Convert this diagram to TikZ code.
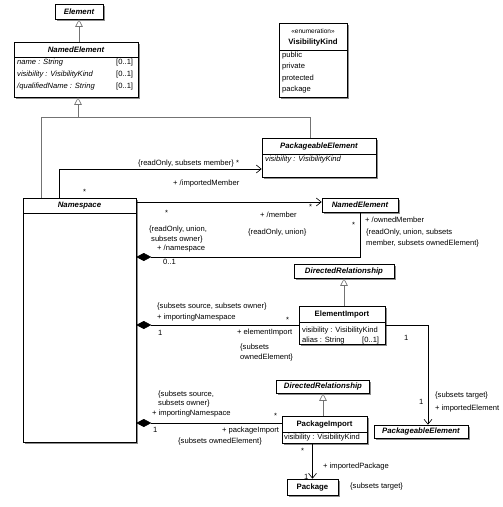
\documentclass[tikz,border=0pt]{standalone}
\usepackage{fontspec}
\setmainfont{Liberation Sans}
\usetikzlibrary{arrows.meta,shadows}
\begin{document}
\begin{tikzpicture}[x=1pt,y=-1pt,
  every node/.style={font=\fontsize{7.6}{9}\selectfont, inner sep=0pt},
  cls/.style={draw, fill=white, line width=0.6pt, drop shadow={shadow xshift=1.5pt, shadow yshift=-1.5pt, fill=black!45, opacity=1}},
  ttl/.style={font=\fontsize{7.8}{9}\selectfont\bfseries\itshape},
  ttlb/.style={font=\fontsize{7.8}{9}\selectfont\bfseries},
  att/.style={anchor=west, font=\fontsize{7.6}{9}\selectfont\itshape},
  attu/.style={anchor=west},
  lbl/.style={anchor=west},
  genline/.style={draw=black!55, line width=0.6pt},
  gen/.style={draw=black!55, line width=0.6pt, -{Triangle[open, length=7.5pt, width=7.5pt, fill=white]}},
  assoc/.style={draw, line width=0.6pt, -{Straight Barb[length=5pt, width=8pt]}},
  comp/.style={draw, line width=0.6pt, {Diamond[length=15pt, width=8pt]}-}
]
\useasboundingbox[fill=white] (0,0) rectangle (503,507);

% ---------- classes ----------
\node[cls, minimum width=48, minimum height=15] (elem) at (79,11.5) {};
\node[ttl] (elemT) at (elem.center) {Element};

\node[cls, minimum width=124, minimum height=55] (ne) at (76,69.5) {};
\draw[line width=0.6pt] (14,57) -- (138,57);
\node[ttl] (neT) at (76,49.5) {NamedElement};
\node[att] (neA1) at (17,63) {name : String};
\node[att] (neA2) at (17,75) {visibility : VisibilityKind};
\node[att] (neA3) at (17,87) {/qualifiedName : String};
\node[attu] (neM1) at (116,63) {[0..1]};
\node[attu] (neM2) at (116,75) {[0..1]};
\node[attu] (neM3) at (116,87) {[0..1]};

\node[cls, minimum width=68, minimum height=74] (vk) at (313,60) {};
\draw[line width=0.6pt] (279,50) -- (347,50);
\node[font=\fontsize{6.5}{8}\selectfont] (vkS) at (313,31) {«enumeration»};
\node[ttlb] (vkT) at (313,42) {VisibilityKind};
\node[attu] (vk1) at (282,56) {public};
\node[attu] (vk2) at (282,67) {private};
\node[attu] (vk3) at (282,79) {protected};
\node[attu] (vk4) at (282,90) {package};

\node[cls, minimum width=114, minimum height=39] (pe1) at (319,157.5) {};
\draw[line width=0.6pt] (262,154) -- (376,154);
\node[ttl] (pe1T) at (319,146) {PackageableElement};
\node[att] (pe1A) at (265,160) {visibility : VisibilityKind};

\node[cls, minimum width=113, minimum height=244] (ns) at (79.5,320) {};
\draw[line width=0.6pt] (23,213) -- (136,213);
\node[ttl] (nsT) at (79.5,205.5) {Namespace};

\node[cls, minimum width=76, minimum height=14] (ne2) at (360,205) {};
\node[ttl] (ne2T) at (ne2.center) {NamedElement};

\node[cls, minimum width=100, minimum height=14] (dr1) at (344,271) {};
\node[ttl] (dr1T) at (dr1.center) {DirectedRelationship};

\node[cls, minimum width=86, minimum height=38] (ei) at (342,325) {};
\draw[line width=0.6pt] (299,322) -- (385,322);
\node[ttlb] (eiT) at (342,314) {ElementImport};
\node[attu] (eiA1) at (302,331) {visibility : VisibilityKind};
\node[attu] (eiA2) at (302,340.5) {alias : String};
\node[attu] (eiM2) at (362,340.5) {[0..1]};

\node[cls, minimum width=93, minimum height=13] (dr2) at (323,386.5) {};
\node[ttl] (dr2T) at (dr2.center) {DirectedRelationship};

\node[cls, minimum width=85, minimum height=27] (pi) at (324.5,429.5) {};
\draw[line width=0.6pt] (282,432) -- (367,432);
\node[ttlb] (piT) at (324.5,424) {PackageImport};
\node[attu] (piA1) at (284,437.5) {visibility : VisibilityKind};

\node[cls, minimum width=94, minimum height=13] (pe2) at (421,431.5) {};
\node[ttl] (pe2T) at (pe2.center) {PackageableElement};

\node[cls, minimum width=51, minimum height=16] (pkg) at (312.5,487) {};
\node[ttlb] (pkgT) at (pkg.center) {Package};

% ---------- generalizations ----------
\coordinate (gj) at (78,117);
\coordinate (gjL) at (41,117);
\coordinate (gjR) at (310,117);
\draw[gen] (elem.south |- ne.north) -- (elem.south);
\draw[genline] (ns.north -| gjL) -- (gjL) -- (gjR) -- (pe1.north -| gjR);
\draw[gen] (gj) -- (gj |- ne.south);
\draw[gen] (dr1.south |- ei.north) -- (dr1.south);
\draw[gen] (dr2.south |- pi.north) -- (dr2.south);

% ---------- associations ----------
\coordinate (a1) at (59,169);
\draw[assoc] (ns.north -| a1) -- (a1) -- (pe1.west |- a1);
\coordinate (a2) at (138,202);
\draw[assoc] (ns.east |- a2) -- (ne2.west |- a2);
\coordinate (c1) at (360,257);
\draw[comp] (ns.east |- c1) -- (c1) -- (ne2.south -| c1);
\draw[comp] (ns.east |- ei.west) -- (ei.west);
\coordinate (c3) at (428,325);
\draw[assoc] (ei.east) -- (c3) -- (pe2.north -| c3);
\coordinate (c4) at (282,423);
\draw[comp] (ns.east |- c4) -- (pi.west |- c4);
\draw[assoc] (pkg.north |- pi.south) -- (pkg.north);

% ---------- labels ----------
\node[lbl] (l1) at (138,164) {\{readOnly, subsets member\} *};
\node[lbl] (l2) at (173,184) {+ /importedMember};
\node[lbl] (l3) at (83,192) {*};

\node[lbl] (m1) at (165,213) {*};
\node[lbl] (m2) at (260,215) {+ /member};
\node[lbl] (m3) at (248,233) {\{readOnly, union\}};
\node[lbl] (m4) at (309,207) {*};
\node[lbl] (m5) at (149,230) {\{readOnly, union,};
\node[lbl] (m6) at (151,240) {subsets owner\}};
\node[lbl] (m7) at (157,249) {+ /namespace};
\node[lbl] (m8) at (163,262) {0..1};
\node[lbl] (m9) at (352,225) {*};
\node[lbl] (m10) at (365,220) {+ /ownedMember};
\node[lbl] (m11) at (366,233) {\{readOnly, union, subsets};
\node[lbl] (m12) at (366,244) {member, subsets ownedElement\}};

\node[lbl] (e1) at (157,307) {\{subsets source, subsets owner\}};
\node[lbl] (e2) at (157,318) {+ importingNamespace};
\node[lbl] (e3) at (286,320) {*};
\node[lbl] (e4) at (158,333) {1};
\node[lbl] (e5) at (237,333) {+ elementImport};
\node[lbl] (e6) at (240,348) {\{subsets};
\node[lbl] (e7) at (240,358) {ownedElement\}};
\node[lbl] (e8) at (404,338) {1};
\node[lbl] (e9) at (419,402) {1};
\node[lbl] (e10) at (435,396) {\{subsets target\}};
\node[lbl] (e11) at (435,409) {+ importedElement};

\node[lbl] (p1) at (158,395) {\{subsets source,};
\node[lbl] (p2) at (158,404) {subsets owner\}};
\node[lbl] (p3) at (152,414) {+ importingNamespace};
\node[lbl] (p4) at (274,416) {*};
\node[lbl] (p5) at (153,430) {1};
\node[lbl] (p6) at (222,431) {+ packageImport};
\node[lbl] (p7) at (178,442) {\{subsets ownedElement\}};
\node[lbl] (p8) at (301,451) {*};
\node[lbl] (p9) at (323,467) {+ importedPackage};
\node[lbl] (p10) at (304,477) {1};
\node[lbl] (p11) at (350,487) {\{subsets target\}};
\end{tikzpicture}
\end{document}
